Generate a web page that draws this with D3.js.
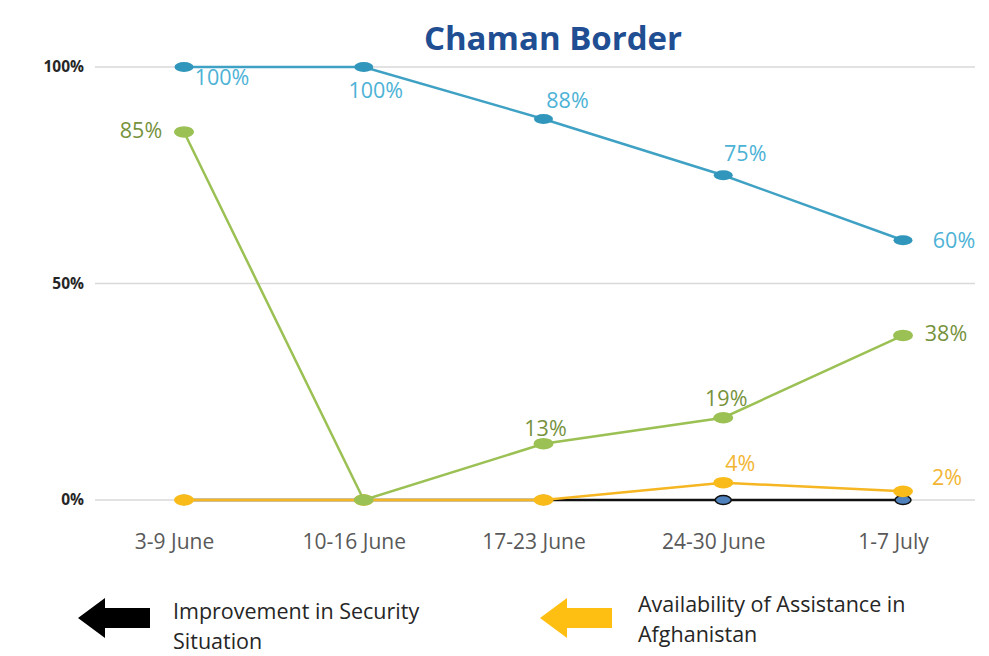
<!DOCTYPE html>
<html>
<head>
<meta charset="utf-8">
<script src="https://cdn.jsdelivr.net/npm/d3@7"></script>
<style>
  body { margin: 0; background: #fff; }
  svg { display: block; font-family: "Open Sans", "Noto Sans", sans-serif; }
</style>
</head>
<body>
<div id="chart"></div>
<script>
{
  const { d3 } = window;

  const categories = ['3-9 June', '10-16 June', '17-23 June', '24-30 June', '1-7 July'];
  const yTicks = [0, 50, 100];
  const security = [0, 0, 0, 0, 0];
  const assistance = [0, 0, 0, 4, 2];
  const green = [85, 0, 13, 19, 38];
  const blue = [100, 100, 88, 75, 60];

  // label placement per point: [dx, dy]
  const blueLabelPos = [[38, 18], [12, 31], [24, -11], [22, -14], [51, 8]];
  const greenLabelPos = [[-43, 6], null, [2, -8], [3, -12], [43, 6]];
  const yellowLabelPos = [null, null, null, [17, -12], [44, -6]];

  const width = 989;
  const height = 656;

  const svg = d3.select('#chart').append('svg')
    .attr('width', width)
    .attr('height', height);

  const x = d3.scalePoint()
    .domain(categories)
    .range([184, 903]);

  const y = d3.scaleLinear()
    .domain([0, 100])
    .range([500, 67]);

  // title
  svg.append('text')
    .attr('x', 553)
    .attr('y', 50)
    .attr('text-anchor', 'middle')
    .attr('font-size', 33)
    .attr('font-weight', 'bold')
    .attr('fill', '#1f4e93')
    .text('Chaman Border');

  // gridlines
  svg.append('g')
    .selectAll('line')
    .data(yTicks)
    .join('line')
    .attr('x1', 95)
    .attr('x2', 975)
    .attr('y1', (d) => y(d))
    .attr('y2', (d) => y(d))
    .attr('stroke', '#d9d9d9')
    .attr('stroke-width', 1.5);

  // y axis labels
  const yAxis = svg.append('g')
    .attr('transform', 'translate(84,0)')
    .call(d3.axisLeft(y).tickValues(yTicks).tickFormat((d) => `${d}%`).tickSize(0).tickPadding(0));
  yAxis.select('.domain').remove();
  yAxis.selectAll('text')
    .attr('font-size', 15.5)
    .attr('font-weight', 'bold')
    .attr('fill', '#262626')
    .attr('font-family', '"Open Sans", sans-serif');

  // x axis labels
  const xAxis = svg.append('g')
    .attr('transform', 'translate(-10,529)')
    .call(d3.axisBottom(x).tickSize(0).tickPadding(5));
  xAxis.select('.domain').remove();
  xAxis.selectAll('text')
    .attr('font-size', 21)
    .attr('fill', '#595959')
    .attr('font-family', '"Open Sans", sans-serif');

  const line = d3.line()
    .x((d, i) => x(categories[i]))
    .y((d) => y(d));

  const series = [
    { values: security, line: '#111', fill: '#4f81bd', stroke: '#111', rx: 8, ry: 4.5, label: null, pos: null },
    { values: assistance, line: '#f5b622', fill: '#f8bb1a', stroke: 'none', rx: 10, ry: 5.8, label: '#f2b532', pos: yellowLabelPos },
    { values: green, line: '#9bc053', fill: '#9bc053', stroke: 'none', rx: 10, ry: 5.8, label: '#76923c', pos: greenLabelPos },
    { values: blue, line: '#3fa1c3', fill: '#3196bb', stroke: 'none', rx: 9.5, ry: 5, label: '#4cb2d6', pos: blueLabelPos },
  ];

  series.forEach((s) => {
    const g = svg.append('g');
    g.append('path')
      .datum(s.values)
      .attr('d', line)
      .attr('fill', 'none')
      .attr('stroke', s.line)
      .attr('stroke-width', 2.5);
    g.selectAll('ellipse')
      .data(s.values)
      .join('ellipse')
      .attr('cx', (d, i) => x(categories[i]))
      .attr('cy', (d) => y(d))
      .attr('rx', s.rx)
      .attr('ry', s.ry)
      .attr('fill', s.fill)
      .attr('stroke', s.stroke)
      .attr('stroke-width', 1.5);
  });

  // data labels drawn on top
  series.forEach((s) => {
    if (!s.pos) return;
    svg.append('g')
      .selectAll('text')
      .data(s.values.map((v, i) => ({ v, i, p: s.pos[i] })).filter((d) => d.p))
      .join('text')
      .attr('x', (d) => x(categories[d.i]) + d.p[0])
      .attr('y', (d) => y(d.v) + d.p[1])
      .attr('text-anchor', 'middle')
      .attr('font-size', 21.5)
      .attr('fill', s.label)
      .text((d) => `${d.v}%`);
  });

  // legend arrows
  const legend = [
    { x: 78, color: '#000', lines: ['Improvement in Security', 'Situation'], tx: 173, ty: 619 },
    { x: 540, color: '#ffbf12', lines: ['Availability of Assistance in', 'Afghanistan'], tx: 638, ty: 612 },
  ];
  const arrowPath = (x0, cy) => `M${x0},${cy} L${x0 + 27},${cy - 20} L${x0 + 27},${cy - 10} L${x0 + 72},${cy - 10} L${x0 + 72},${cy + 10} L${x0 + 27},${cy + 10} L${x0 + 27},${cy + 20} Z`;

  legend.forEach((l) => {
    svg.append('path')
      .attr('d', arrowPath(l.x, 618))
      .attr('fill', l.color);
    const t = svg.append('text')
      .attr('x', l.tx)
      .attr('y', l.ty)
      .attr('font-size', 21.5)
      .attr('fill', '#262626');
    l.lines.forEach((s, i) => {
      t.append('tspan')
        .attr('x', l.tx)
        .attr('dy', i === 0 ? 0 : 29.5)
        .text(s);
    });
  });
}
</script>
</body>
</html>
